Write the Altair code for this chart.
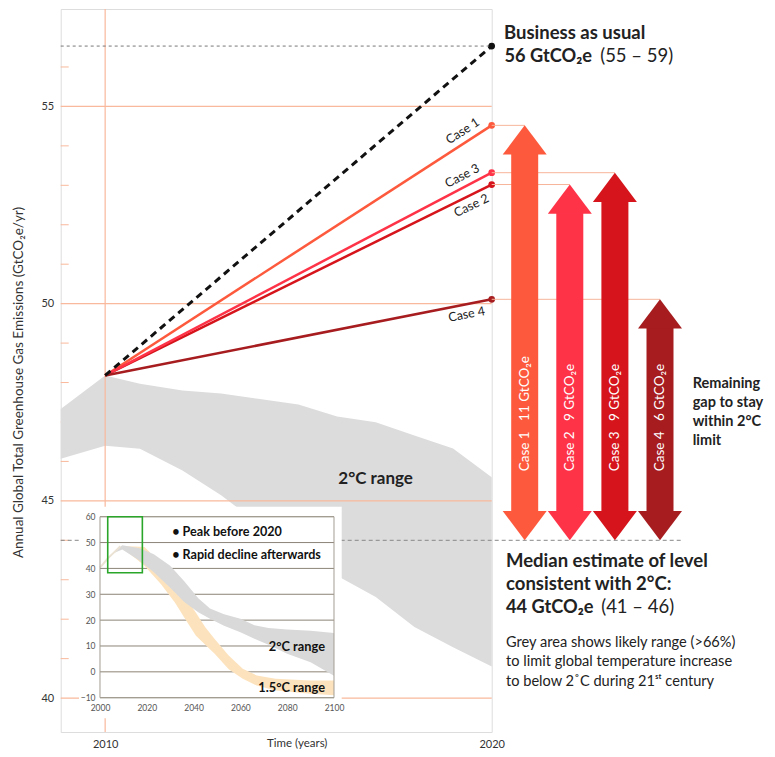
import altair as alt
import pandas as pd

# ---------------- main chart data ----------------
line_years = [2010, 2020]
start_level = 48.18
series = ["Business as usual", "Case 1", "Case 2", "Case 3", "Case 4"]
end_levels = [56.53, 54.52, 53.02, 53.32, 50.11]
line_colors = ["#111111", "#fd5a3d", "#d5141b", "#fe3348", "#a61c1f"]

cases = ["Case 1", "Case 2", "Case 3", "Case 4"]
case_levels = [54.52, 53.02, 53.32, 50.11]
gap_labels = ["Case 1\u00a0\u00a0\u00a011 GtCO₂e", "Case 2\u00a0\u00a0\u00a09 GtCO₂e",
              "Case 3\u00a0\u00a0\u00a09 GtCO₂e", "Case 4\u00a0\u00a0\u00a06 GtCO₂e"]
arrow_colors = ["#fd5a3d", "#fe3348", "#d5141b", "#a61c1f"]

bau_level = 56.53
median_level = 44.0

band_years = [2008.85, 2010, 2010.9, 2012, 2013, 2014, 2015, 2016, 2017, 2018, 2019, 2020]
band_upper = [47.33, 48.18, 47.97, 47.80, 47.72, 47.58, 47.44, 47.14, 46.99, 46.66, 46.33, 45.60]
band_lower = [46.07, 46.40, 46.32, 45.77, 45.14, 44.40, 43.75, 43.10, 42.56, 41.80, 41.29, 40.80]

y_major = [40, 45, 50, 55]
y_minor = [41, 42, 43, 44, 46, 47, 48, 49, 51, 52, 53, 54, 56]
x_ticks = [2010, 2020]
x_grid = [2010]

# ---------------- inset data ----------------
inset_x_ticks = [2000, 2020, 2040, 2060, 2080, 2100]
inset_y_ticks = [-10, 0, 10, 20, 30, 40, 50, 60]
hist_years = [2000, 2003.6, 2005.8, 2008.7]
hist_values = [40.3, 44.1, 46.0, 48.6]
two_years = [2005.5, 2009.5, 2017, 2023, 2030, 2036, 2042, 2047, 2053, 2060, 2066, 2072, 2080, 2090, 2100]
two_upper = [45.8, 49.0, 47.8, 45.5, 41.0, 35.0, 28.5, 24.5, 22.3, 20.5, 18.0, 17.0, 16.4, 15.9, 15.0]
two_lower = [45.8, 47.3, 43.0, 38.5, 32.5, 27.0, 23.0, 20.5, 17.8, 15.3, 12.8, 10.5, 7.0, 3.7, -1.5]
one5_years = [2009.5, 2015, 2019, 2021, 2026, 2032, 2036, 2041, 2045, 2049, 2055, 2061, 2067, 2075, 2090, 2100]
one5_upper = [48.6, 48.5, 48.3, 46.5, 40.9, 35.1, 29.4, 22.9, 17.2, 12.7, 6.3, 1.2, -1.4, -2.7, -3.3, -3.3]
one5_lower = [47.8, 44.0, 41.0, 39.0, 34.0, 26.8, 21.0, 14.0, 10.5, 7.0, 1.0, -2.7, -5.3, -7.2, -8.5, -9.1]
zoom_box_years = [2003.3, 2018.1]
zoom_box_values = [38.3, 60]

# ---------------- layout ----------------
W, H = 431, 723
FONT = "Lato"
x_main = alt.Scale(domain=[2008.85, 2020], nice=False, zero=False)
y_main = alt.Scale(domain=[39.14, 57.47], nice=False, zero=False)
x_inset = alt.Scale(domain=[inset_x_ticks[0], inset_x_ticks[-1]], range=[39.3, 273.3], nice=False, zero=False)
y_inset = alt.Scale(domain=[inset_y_ticks[0], inset_y_ticks[-1]], range=[688.7, 507.7], nice=False, zero=False)
x_arrow = alt.Scale(type="point", domain=cases, range=[464, 599.3], padding=0)
GRID = "#f9b99c"

one = pd.DataFrame({"a": [0]})


def txt(text, x, y, size, weight="normal", align="left", baseline="alphabetic",
        color="#222222", line_height=None):
    kw = dict(text=text, align=align, baseline=baseline, fontSize=size,
              fontWeight=weight, color=color, font=FONT)
    if line_height:
        kw["lineHeight"] = line_height
    return alt.Chart(one).mark_text(**kw).encode(x=alt.value(x), y=alt.value(y))


# ---------------- main layers ----------------
minor_df = pd.DataFrame({"value": y_minor})
minor = alt.Chart(minor_df).mark_rule(color=GRID, strokeWidth=1).encode(
    y=alt.Y("value:Q", scale=y_main), x=alt.value(0), x2=alt.value(8))

band_df = pd.DataFrame({"year": band_years, "value": band_upper, "lower": band_lower})
band = alt.Chart(band_df).mark_area(color="#dcdcdc").encode(
    x=alt.X("year:Q", scale=x_main, axis=alt.Axis(
        values=x_ticks, grid=False, domain=False, ticks=False, labelFlush=False,
        labelPadding=6, labelFontSize=11, labelColor="#333333", labelFont=FONT,
        format="d", title="Time (years)", titleFont=FONT, titleFontSize=11.5,
        titleFontWeight="normal", titleColor="#333333", titleX=236, titleY=5,
        titleBaseline="top")),
    y=alt.Y("value:Q", scale=y_main, axis=alt.Axis(
        values=y_major, grid=False, domain=False, ticks=False, labelPadding=7,
        labelFontSize=11, labelColor="#333333", labelFont=FONT,
        title="Annual Global Total Greenhouse Gas Emissions (GtCO₂e/yr)",
        titleFont=FONT, titleFontSize=13.5, titleFontWeight="normal",
        titleColor="#333333", titleX=-42.2, titleY=373, titleBaseline="middle")),
    y2="lower:Q")

hgrid = alt.Chart(pd.DataFrame({"value": y_major})).mark_rule(color=GRID, strokeWidth=1.2).encode(
    y=alt.Y("value:Q", scale=y_main), x=alt.value(0), x2=alt.value(W))
vgrid = alt.Chart(pd.DataFrame({"year": x_grid})).mark_rule(color=GRID, strokeWidth=1.2).encode(
    x=alt.X("year:Q", scale=x_main), y=alt.value(0), y2=alt.value(H))

bau_ref = alt.Chart(pd.DataFrame({"value": [bau_level]})).mark_rule(
    color="#777777", strokeWidth=1, strokeDash=[3, 3]).encode(
    y=alt.Y("value:Q", scale=y_main), x=alt.value(0), x2=alt.value(W))
median_ref = alt.Chart(pd.DataFrame({"value": [median_level]})).mark_rule(
    color="#888888", strokeWidth=1, strokeDash=[4, 3]).encode(
    y=alt.Y("value:Q", scale=y_main), x=alt.value(0), x2=alt.value(621))

rows = []
for s, e in zip(series, end_levels):
    rows.append({"series": s, "year": line_years[0], "value": start_level})
    rows.append({"series": s, "year": line_years[1], "value": e})
lines_df = pd.DataFrame(rows)
color_scale = alt.Scale(domain=series, range=line_colors)

case_lines = alt.Chart(lines_df).transform_filter(
    alt.datum.series != "Business as usual").mark_line(strokeWidth=2.5).encode(
    x=alt.X("year:Q", scale=x_main), y=alt.Y("value:Q", scale=y_main),
    color=alt.Color("series:N", scale=color_scale, legend=None), detail="series:N")
bau_line = alt.Chart(lines_df).transform_filter(
    alt.datum.series == "Business as usual").mark_line(strokeWidth=3, strokeDash=[7, 5]).encode(
    x=alt.X("year:Q", scale=x_main), y=alt.Y("value:Q", scale=y_main),
    color=alt.Color("series:N", scale=color_scale, legend=None))
end_dots = alt.Chart(lines_df).transform_filter(alt.datum.year == 2020).mark_point(
    filled=True, size=45, opacity=1).encode(
    x=alt.X("year:Q", scale=x_main), y=alt.Y("value:Q", scale=y_main),
    color=alt.Color("series:N", scale=color_scale, legend=None))

label_style = {
    "Case 1": dict(angle=327, dy=-4, baseline="bottom"),
    "Case 2": dict(angle=334, dy=4, baseline="top"),
    "Case 3": dict(angle=332, dy=-4, baseline="bottom"),
    "Case 4": dict(angle=349, dy=4, baseline="top"),
}
case_labels = []
for c, lvl in zip(cases, case_levels):
    st = label_style[c]
    case_labels.append(
        alt.Chart(pd.DataFrame({"year": [line_years[1]], "value": [lvl], "label": [c]}))
        .mark_text(align="right", dx=-9, fontSize=12.5, color="#222222", font=FONT, **st)
        .encode(x=alt.X("year:Q", scale=x_main), y=alt.Y("value:Q", scale=y_main), text="label:N"))

texts = [
    txt("Business as usual", 443.3, 30.3, 18.5, "bold"),
    txt("56 GtCO₂e", 443.8, 52.7, 18.2, "bold"),
    txt("(55 – 59)", 539.5, 52.7, 18.5),
    txt("2°C range", 277.6, 475, 17, "bold"),
    txt(["Remaining", "gap to stay", "within 2°C", "limit"], 632, 379.3, 14.5, "bold", line_height=19),
    txt(["Median estimate of level", "consistent with 2°C:"], 445.3, 557.7, 18.5, "bold", line_height=23.3),
    txt("44 GtCO₂e", 445.3, 604.3, 18.2, "bold"),
    txt("(41 – 46)", 540.5, 604.3, 18.5),
    txt(["Grey area shows likely range (>66%)", "to limit global temperature increase",
         "to below 2˚C during 21ˢᵗ century"], 445.3, 638, 14.6, line_height=19.3),
]

main = alt.layer(minor, band, hgrid, vgrid, bau_ref, median_ref, case_lines, bau_line,
                 end_dots, *case_labels, *texts)

# ---------------- inset layers ----------------
inset_box = alt.Chart(one).mark_rect(color="white").encode(
    x=alt.value(18.3), x2=alt.value(281), y=alt.value(497.7), y2=alt.value(709.3))
igrid = alt.Chart(pd.DataFrame({"v": inset_y_ticks})).mark_rule(color="#8c8477", strokeWidth=1).encode(
    y=alt.Y("v:Q", scale=y_inset, axis=alt.Axis(
        values=inset_y_ticks, orient="left", offset=-39.3, domain=False, ticks=False, grid=False,
        labelFontSize=8.5, labelColor="#555555", labelFont=FONT, labelPadding=5, title=None,
        zindex=2)),
    x=alt.value(39.3), x2=alt.value(273.3))
one5 = alt.Chart(pd.DataFrame({"yr": one5_years, "v": one5_upper, "lo": one5_lower})).mark_area(
    color="#fde3bd").encode(
    x=alt.X("yr:Q", scale=x_inset, axis=alt.Axis(
        values=inset_x_ticks, orient="bottom", offset=-34.3, domain=False, ticks=False, grid=False,
        labelFlush=False, labelFontSize=8.5, labelColor="#555555", labelFont=FONT, labelPadding=6,
        format="d", title=None, zindex=2)),
    y=alt.Y("v:Q", scale=y_inset), y2="lo:Q")
two = alt.Chart(pd.DataFrame({"yr": two_years, "v": two_upper, "lo": two_lower})).mark_area(
    color="#d9d9d9").encode(
    x=alt.X("yr:Q", scale=x_inset), y=alt.Y("v:Q", scale=y_inset), y2="lo:Q")
hist = alt.Chart(pd.DataFrame({"yr": hist_years, "v": hist_values})).mark_line(
    color="#ebe2d3", strokeWidth=2).encode(
    x=alt.X("yr:Q", scale=x_inset), y=alt.Y("v:Q", scale=y_inset))
iframe = alt.Chart(pd.DataFrame({"yr": [inset_x_ticks[0]], "yr2": [inset_x_ticks[-1]],
                                 "v": [inset_y_ticks[0]], "v2": [inset_y_ticks[-1]]})).mark_rect(
    filled=False, stroke="#a39d92", strokeWidth=1).encode(
    x=alt.X("yr:Q", scale=x_inset), x2="yr2:Q", y=alt.Y("v:Q", scale=y_inset), y2="v2:Q")
zbox = alt.Chart(pd.DataFrame({"yr": [zoom_box_years[0]], "yr2": [zoom_box_years[1]],
                               "v": [zoom_box_values[0]], "v2": [zoom_box_values[1]]})).mark_rect(
    filled=False, stroke="#2aa62a", strokeWidth=1.6).encode(
    x=alt.X("yr:Q", scale=x_inset), x2="yr2:Q", y=alt.Y("v:Q", scale=y_inset), y2="v2:Q")
inset_texts = [
    txt("• Peak before 2020", 111.5, 522.7, 12.6, "bold", baseline="middle", color="#111111"),
    txt("• Rapid decline afterwards", 111.5, 546, 12.6, "bold", baseline="middle", color="#111111"),
    txt("2°C range", 264.3, 637.7, 12.8, "bold", align="right", baseline="middle", color="#111111"),
    txt("1.5°C range", 264.3, 678.7, 12.8, "bold", align="right", baseline="middle", color="#111111"),
]
inset = alt.layer(inset_box, igrid, one5, two, hist, iframe, zbox, *inset_texts)

# ---------------- gap arrows ----------------
arrow_df = pd.DataFrame({"case": cases, "top": case_levels,
                         "bottom": [median_level] * 4, "label": gap_labels})
acolor = alt.Color("case:N", scale=alt.Scale(domain=cases, range=arrow_colors), legend=None)
ax = alt.X("case:N", scale=x_arrow, axis=None)
ay_top = alt.Y("top:Q", scale=y_main, axis=None)
connect = alt.Chart(arrow_df).mark_rule(color="#f7b49a", strokeWidth=1).encode(
    x=ax, x2=alt.value(W), y=ay_top)
shaft = alt.Chart(arrow_df).mark_rule(strokeWidth=27, yOffset=28, y2Offset=-28).encode(
    x=ax, y=ay_top, y2="bottom:Q", color=acolor)
head_up = alt.Chart(arrow_df).mark_point(
    shape="M0,0L1,1.33L-1,1.33Z", size=1936, filled=True, opacity=1).encode(
    x=ax, y=ay_top, color=acolor)
head_down = alt.Chart(arrow_df).mark_point(
    shape="M0,0L1,-1.33L-1,-1.33Z", size=1936, filled=True, opacity=1).encode(
    x=ax, y=alt.Y("bottom:Q", scale=y_main, axis=None), color=acolor)
alabels = alt.Chart(arrow_df).mark_text(
    angle=270, align="left", baseline="middle", dx=69, color="white", fontSize=13.5, font=FONT).encode(
    x=ax, y=alt.Y("bottom:Q", scale=y_main, axis=None), text="label:N")
arrows = alt.layer(connect, shaft, head_up, head_down, alabels)

chart = alt.layer(main, inset, arrows).resolve_scale(
    x="independent", y="independent", color="independent").properties(
    width=W, height=H, padding={"left": 52.7, "top": 1, "right": 275.3, "bottom": 17},
    autosize=alt.AutoSizeParams(type="none")).configure_view(
    fill="#fef7f2", stroke="#fbccb7", strokeWidth=1.5).configure(font=FONT)

chart.save("out.html", embed_options={"renderer": "svg", "actions": False})
